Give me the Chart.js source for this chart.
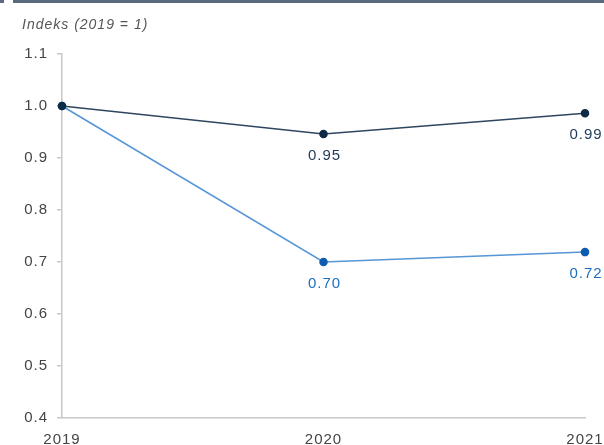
<!DOCTYPE html>
<html>
<head>
<meta charset="utf-8">
<script src="https://cdn.jsdelivr.net/npm/chart.js@4/dist/chart.umd.min.js"></script>
<style>
  html, body { margin: 0; padding: 0; background: #fff; }
  #wrap { position: relative; width: 604px; height: 445px; }
</style>
</head>
<body>
<div id="wrap"><canvas id="chart"></canvas></div>
<script>
// data
const years = ['2019', '2020', '2021'];
const darkSeries = [1.0, 0.946, 0.986];
const lightSeries = [1.0, 0.70, 0.719];
const darkLabels = ['', '0.95', '0.99'];
const lightLabels = ['', '0.70', '0.72'];
const yTicks = [0.4, 0.5, 0.6, 0.7, 0.8, 0.9, 1.0, 1.1];

const FONT = '"Liberation Sans", Arial, sans-serif';

// title, top rule and the letter spacing the picture uses
const decor = {
  id: 'decor',
  beforeDraw(chart) {
    const ctx = chart.ctx;
    ctx.letterSpacing = '1px';
    ctx.save();
    ctx.fillStyle = '#5a6a7e';
    ctx.fillRect(0, 0, 4, 3);
    ctx.fillRect(13, 0, 591, 3);
    ctx.fillStyle = '#555';
    ctx.font = 'italic 14px ' + FONT;
    ctx.textBaseline = 'middle';
    ctx.textAlign = 'left';
    ctx.fillText('Indeks (2019 = 1)', 22, 25);
    ctx.restore();
  }
};

// value labels under the points
const valueLabels = {
  id: 'valueLabels',
  afterDatasetsDraw(chart) {
    const ctx = chart.ctx;
    ctx.save();
    ctx.font = '15px ' + FONT;
    ctx.textAlign = 'center';
    ctx.textBaseline = 'middle';
    chart.data.datasets.forEach((ds, i) => {
      const meta = chart.getDatasetMeta(i);
      meta.data.forEach((pt, j) => {
        const txt = ds.valueText[j];
        if (!txt) return;
        ctx.fillStyle = ds.labelColor;
        ctx.fillText(txt, pt.x + 1, pt.y + 22);
      });
    });
    ctx.restore();
  }
};

new Chart(document.getElementById('chart'), {
  type: 'line',
  data: {
    labels: years,
    datasets: [
      {
        data: darkSeries,
        valueText: darkLabels,
        labelColor: '#1f3a56',
        borderColor: '#2e4660',
        backgroundColor: '#0f2a45',
        pointBackgroundColor: '#0f2a45',
        pointBorderColor: '#0f2a45',
        borderWidth: 1.5,
        pointRadius: 3.5,
        tension: 0
      },
      {
        data: lightSeries,
        valueText: lightLabels,
        labelColor: '#1d6ec2',
        borderColor: '#5595d8',
        backgroundColor: '#0d5cb0',
        pointBackgroundColor: '#0d5cb0',
        pointBorderColor: '#0d5cb0',
        borderWidth: 1.5,
        pointRadius: 3.5,
        tension: 0
      }
    ]
  },
  options: {
    responsive: true,
    maintainAspectRatio: false,
    animation: false,
    layout: { padding: { top: 54, right: 19, left: 0, bottom: 0 } },
    plugins: { legend: { display: false }, tooltip: { enabled: false } },
    scales: {
      x: {
        offset: false,
        grid: { display: false },
        border: { display: true, color: '#c8c8c8', width: 1.5 },
        ticks: { color: '#444', font: { family: FONT, size: 15 }, padding: 5, maxRotation: 0 },
        afterFit(scale) {
          scale.height = 27;
          scale.paddingLeft = 0;
          scale.paddingRight = 0;
        }
      },
      y: {
        min: 0.4,
        max: 1.1,
        afterBuildTicks(scale) { scale.ticks = yTicks.map(v => ({ value: v })); },
        grid: { display: true, drawOnChartArea: false, drawTicks: true, tickLength: 5, color: '#c8c8c8', lineWidth: 1.5 },
        border: { display: true, color: '#c8c8c8', width: 1.5 },
        ticks: {
          color: '#444',
          font: { family: FONT, size: 15 },
          padding: 9,
          callback: v => Number(v).toFixed(1)
        },
        afterFit(scale) {
          scale.width = 62;
          scale.paddingTop = 0;
          scale.paddingBottom = 0;
        }
      }
    }
  },
  plugins: [decor, valueLabels]
});
</script>
</body>
</html>
